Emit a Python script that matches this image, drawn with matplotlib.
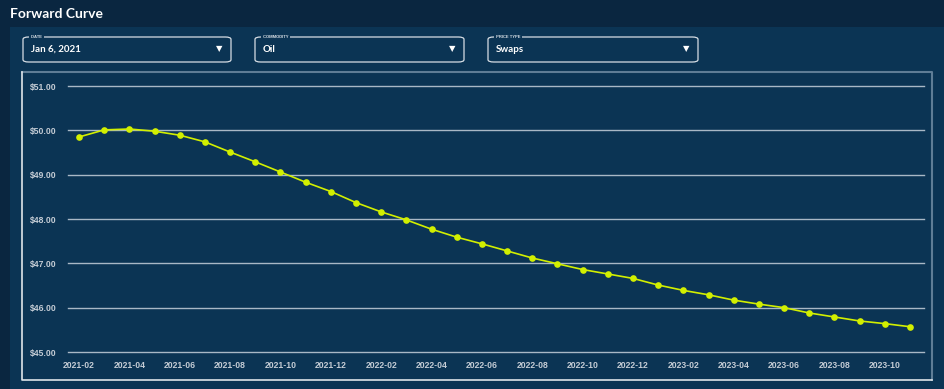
import matplotlib.pyplot as plt
from matplotlib.patches import Rectangle, FancyBboxPatch
from matplotlib.lines import Line2D

# forward curve data, monthly contracts
months = ["2021-02", "2021-03", "2021-04", "2021-05", "2021-06", "2021-07",
          "2021-08", "2021-09", "2021-10", "2021-11", "2021-12", "2022-01",
          "2022-02", "2022-03", "2022-04", "2022-05", "2022-06", "2022-07",
          "2022-08", "2022-09", "2022-10", "2022-11", "2022-12", "2023-01",
          "2023-02", "2023-03", "2023-04", "2023-05", "2023-06", "2023-07",
          "2023-08", "2023-09", "2023-10", "2023-11"]
prices = [49.85, 50.01, 50.03, 49.98, 49.89, 49.74, 49.51, 49.29, 49.06, 48.83,
          48.62, 48.37, 48.16, 47.98, 47.77, 47.59, 47.44, 47.28, 47.12, 46.99,
          46.86, 46.76, 46.66, 46.51, 46.39, 46.29, 46.17, 46.08, 46.00, 45.88,
          45.79, 45.70, 45.64, 45.57]
y_ticks = [45, 46, 47, 48, 49, 50, 51]

dropdown_labels = ["DATE", "COMMODITY", "PRICE TYPE"]
dropdown_values = ["Jan 6, 2021", "Oil", "Swaps"]

W, H = 945, 389
HEADER = "#0a2640"
PANEL = "#0b3454"
LINE = "#d2ef00"
TXT = "#c4ccd5"

fig = plt.figure(figsize=(W / 100, H / 100), dpi=100)
fig.patch.set_facecolor(HEADER)


def fx(x):
    return x / W


def fy(y):
    return 1 - y / H


# panel background (behind the axes)
fig.patches.append(Rectangle((fx(10), 0), 1 - fx(10), fy(27), transform=fig.transFigure,
                             facecolor=PANEL, edgecolor="none", zorder=-5))

fig.text(fx(10), fy(14), "Forward Curve", color="white", fontsize=10,
         fontweight="bold", family="Lato", va="center", ha="left")

# dropdown boxes
boxes = [(23, 231), (255, 464), (488, 698)]
for (x0, x1), lab, val in zip(boxes, dropdown_labels, dropdown_values):
    fig.patches.append(FancyBboxPatch((fx(x0), fy(62)), fx(x1 - x0), (62 - 37) / H,
                                      boxstyle="round,pad=0,rounding_size=0.006",
                                      transform=fig.transFigure, facecolor="none",
                                      edgecolor="#d6dde4", linewidth=0.9, zorder=2))
    fig.text(fx(x0 + 7), fy(37), " " + lab + " ", color="#d6dde4", fontsize=3,
             fontweight="bold", family="Liberation Sans", va="center", ha="left",
             zorder=3, bbox=dict(facecolor=PANEL, edgecolor="none", pad=0.6))
    fig.text(fx(x0 + 8), fy(49.5), val, color="white", fontsize=7,
             fontweight="bold", family="Lato", va="center", ha="left")
    fig.text(fx(x1 - 12), fy(48.5), "\u25bc", color="white", fontsize=6,
             va="center", ha="center")

# chart frame
fig.lines.append(Line2D([fx(22), fx(932), fx(932)], [fy(72), fy(72), fy(380)],
                        transform=fig.transFigure, color="#5f7d96", linewidth=1.5))
fig.lines.append(Line2D([fx(22), fx(22), fx(932)], [fy(72), fy(380), fy(380)],
                        transform=fig.transFigure, color="#dfe5ea", linewidth=1.2))

ax = fig.add_axes([fx(68), fy(352), fx(924 - 68), (352 - 86) / H])
ax.patch.set_alpha(0)
x = list(range(len(months)))
px_per_month = (910 - 79) / (len(months) - 1)
ax.set_xlim(-11 / px_per_month, len(months) - 1 + 14 / px_per_month)
ax.set_ylim(45, 51)

ax.plot(x, prices, color=LINE, linewidth=1.2, marker="o", markersize=4.8,
        markeredgewidth=0, zorder=3, clip_on=False)

ax.set_yticks(y_ticks)
ax.set_yticklabels([f"${v:.2f}" for v in y_ticks])
ax.set_xticks(x[::2])
ax.set_xticklabels(months[::2])
for lab in ax.get_xticklabels() + ax.get_yticklabels():
    lab.set_family("Liberation Sans")
    lab.set_fontweight("bold")
    lab.set_fontsize(6.2)
    lab.set_color(TXT)
ax.tick_params(length=0)
ax.tick_params(axis="y", pad=8.5)
ax.tick_params(axis="x", pad=6.5)
ax.grid(axis="y", color="#a9b8c6", linewidth=1.0, clip_on=False)
ax.set_axisbelow(True)
for s in ax.spines.values():
    s.set_visible(False)

fig.savefig("out.png", dpi=100, facecolor=fig.get_facecolor())
